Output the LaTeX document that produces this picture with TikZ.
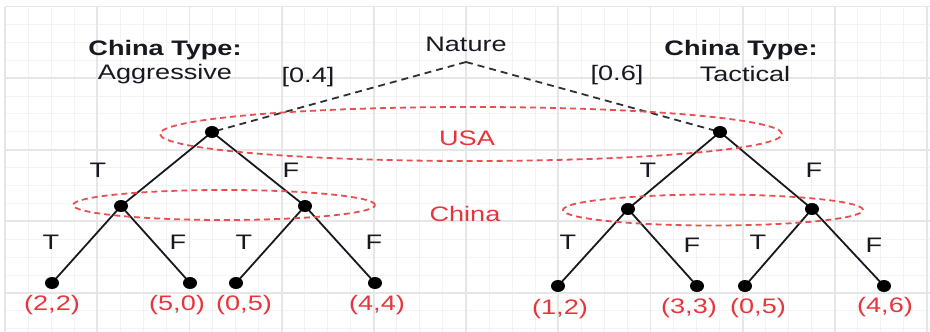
\documentclass[tikz,border=0pt]{standalone}
\usepackage{fontspec}
\setmainfont{Liberation Sans}[FakeStretch=1.29]
\usetikzlibrary{shapes.geometric}
\definecolor{gridmaj}{RGB}{230,230,230}
\definecolor{gridmin}{RGB}{243,243,243}
\definecolor{redtxt}{RGB}{232,52,58}
\definecolor{redline}{RGB}{234,78,80}
\definecolor{inkc}{RGB}{24,24,32}
\pgfdeclarelayer{bg}\pgfdeclarelayer{mid}\pgfsetlayers{bg,mid,main}
\tikzset{
  txt/.style={font=\fontsize{21}{24}\selectfont, inner sep=0pt, text=inkc},
  boldtxt/.style={txt, font=\fontsize{21}{24}\selectfont\bfseries},
  redlab/.style={txt, text=redtxt},
  dot/.style={ellipse, fill=black, draw=none, minimum width=14pt, minimum height=12pt, inner sep=0pt},
  edge/.style={draw=inkc, line width=1.8pt},
  natedge/.style={draw=inkc!90, line width=1.8pt, dash pattern=on 7pt off 5pt},
  infoset/.style={draw=redline, line width=1.8pt, dash pattern=on 6pt off 4pt, ellipse, inner sep=0pt},
}
\begin{document}
\begin{tikzpicture}[x=1pt,y=-1pt]
\useasboundingbox (0,0) rectangle (930,332);
% grid
\begin{pgfonlayer}{bg}
\foreach \k in {0,...,40} {
  \pgfmathsetmacro{\xx}{5+23.05*\k}
  \draw[gridmin, line width=1pt] (\xx,6.5) -- (\xx,332);
}
\foreach \k in {0,...,18} {
  \pgfmathsetmacro{\yy}{6.5+17.9*\k}
  \draw[gridmin, line width=1pt] (5,\yy) -- (930,\yy);
}
\foreach \k in {0,...,10} {
  \pgfmathsetmacro{\xx}{5+92.2*\k}
  \draw[gridmaj, line width=1.8pt] (\xx,6.5) -- (\xx,332);
}
\foreach \k in {0,...,4} {
  \pgfmathsetmacro{\yy}{6.5+71.6*\k}
  \draw[gridmaj, line width=1.8pt] (5,\yy) -- (930,\yy);
}
\end{pgfonlayer}

% titles
\node[txt] (nature) at (466,44) {Nature};
\coordinate (nat) at (466,62);
\node[boldtxt] (ct1) at (165,50) {China Type:};
\node[txt] (agg) at (165,74) {Aggressive};
\node[boldtxt] (ct2) at (741,50) {China Type:};
\node[txt] (tac) at (745,74) {Tactical};
\node[txt] (p1) at (308,77) {[0.4]};
\node[txt] (p2) at (617,75) {[0.6]};

% information sets
\node[infoset, minimum width=622pt, minimum height=54pt] (usaset) at (471,134) {};
\node[infoset, minimum width=302pt, minimum height=30pt] (chset1) at (224,205) {};
\node[infoset, minimum width=300pt, minimum height=31pt] (chset2) at (713,210) {};
\node[redlab] (usa) at (467,138) {USA};
\node[redlab] (china) at (465,214) {China};

% decision nodes
\node[dot] (u1) at (212,132) {};
\node[dot] (u2) at (720,132) {};
\node[dot] (c1) at (121,206) {};
\node[dot] (c2) at (305,206) {};
\node[dot] (c3) at (628,209) {};
\node[dot] (c4) at (812,209) {};
\node[dot] (l1) at (52,283) {};
\node[dot] (l2) at (190,283) {};
\node[dot] (l3) at (236,283) {};
\node[dot] (l4) at (375,283) {};
\node[dot] (l5) at (558,286) {};
\node[dot] (l6) at (697,286) {};
\node[dot] (l7) at (745,286) {};
\node[dot] (l8) at (884,286) {};

\begin{pgfonlayer}{mid}
\draw[natedge] (nat) -- (u1.center);
\draw[natedge] (nat) -- (u2.center);
\draw[edge] (u1.center) -- (c1.center);
\draw[edge] (u1.center) -- (c2.center);
\draw[edge] (u2.center) -- (c3.center);
\draw[edge] (u2.center) -- (c4.center);
\draw[edge] (c1.center) -- (l1.center);
\draw[edge] (c1.center) -- (l2.center);
\draw[edge] (c2.center) -- (l3.center);
\draw[edge] (c2.center) -- (l4.center);
\draw[edge] (c3.center) -- (l5.center);
\draw[edge] (c3.center) -- (l6.center);
\draw[edge] (c4.center) -- (l7.center);
\draw[edge] (c4.center) -- (l8.center);
\end{pgfonlayer}

% action labels
\node[txt] (a1) at (98,170) {T};
\node[txt] (a2) at (291,170) {F};
\node[txt] (a3) at (648,170) {T};
\node[txt] (a4) at (814,170) {F};
\node[txt] (b1) at (51,242) {T};
\node[txt] (b2) at (178,242) {F};
\node[txt] (b3) at (244,242) {T};
\node[txt] (b4) at (374,242) {F};
\node[txt] (b5) at (568,242) {T};
\node[txt] (b6) at (692,245) {F};
\node[txt] (b7) at (758,242) {T};
\node[txt] (b8) at (874,245) {F};

% payoffs
\node[redlab] (r1) at (52,305) {(2,2)};
\node[redlab] (r2) at (177,305) {(5,0)};
\node[redlab] (r3) at (244,305) {(0,5)};
\node[redlab] (r4) at (377,305) {(4,4)};
\node[redlab] (r5) at (560,309) {(1,2)};
\node[redlab] (r6) at (689,308) {(3,3)};
\node[redlab] (r7) at (758,308) {(0,5)};
\node[redlab] (r8) at (885,307) {(4,6)};
\end{tikzpicture}
\end{document}
